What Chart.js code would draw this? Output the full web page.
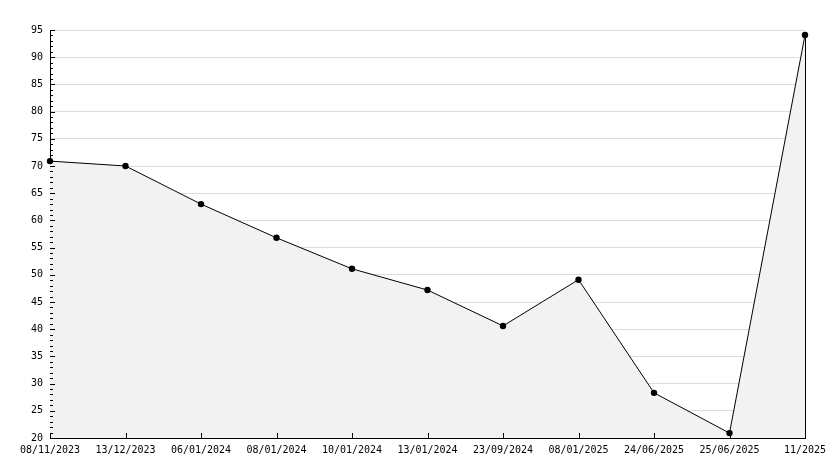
<!DOCTYPE html>
<html><head><meta charset="utf-8">
<script src="https://cdn.jsdelivr.net/npm/chart.js@4"></script>
<style>html,body{margin:0;padding:0;background:#fff}#wrap{width:834px;height:468px}</style>
</head><body><div id="wrap"><canvas id="c" width="834" height="468"></canvas></div>
<script>
const categories = ["08/11/2023","13/12/2023","06/01/2024","08/01/2024","10/01/2024","13/01/2024","23/09/2024","08/01/2025","24/06/2025","25/06/2025","11/2025"];
const values = [70.9, 70.0, 63.0, 56.8, 51.1, 47.2, 40.6, 49.1, 28.3, 20.9, 94.1];
const yMin = 20, yMax = 95, yMajorStep = 5, yMinorStep = 1;

const tickPlugin = {
  id: 'ticks',
  afterDraw(chart) {
    const ctx = chart.ctx, ys = chart.scales.y, xs = chart.scales.x, ca = chart.chartArea;
    ctx.save();
    ctx.strokeStyle = '#000'; ctx.lineWidth = 1;
    ctx.beginPath();
    for (let v = yMin; v <= yMax; v += yMinorStep) {
      const p = Math.round(ys.getPixelForValue(v)) + 0.5;
      const len = (v % yMajorStep === 0) ? 5 : 3;
      ctx.moveTo(ca.left, p); ctx.lineTo(ca.left + len, p);
    }
    for (let i = 0; i < categories.length; i++) {
      const p = Math.round(xs.getPixelForValue(i)) + 0.5;
      ctx.moveTo(p, ca.bottom); ctx.lineTo(p, ca.bottom - 5);
    }
    // area outline at right edge
    const meta = chart.getDatasetMeta(0);
    const last = meta.data[meta.data.length - 1];
    const lx = Math.round(last.x) + 0.5;
    ctx.moveTo(lx, last.y); ctx.lineTo(lx, ca.bottom);
    ctx.stroke();
    ctx.restore();
  }
};

new Chart(document.getElementById('c'), {
  type: 'line',
  data: {
    labels: categories,
    datasets: [{
      data: values,
      borderColor: '#000',
      borderWidth: 1,
      backgroundColor: '#f2f2f2',
      fill: 'start',
      tension: 0,
      pointRadius: 3.2,
      pointBackgroundColor: '#000',
      pointBorderColor: '#000',
      pointBorderWidth: 0,
      pointStyle: 'circle'
    }]
  },
  options: {
    responsive: false,
    animation: false,
    events: [],
    layout: { padding: { top: 30, right: 29, left: 0, bottom: 0 } },
    plugins: { legend: { display: false }, tooltip: { enabled: false } },
    scales: {
      x: {
        type: 'category',
        offset: false,
        grid: { display: false, drawTicks: false },
        border: { display: true, color: '#000', width: 1 },
        ticks: { color: '#000', font: { family: 'DejaVu Sans Mono', size: 10 }, padding: 6, maxRotation: 0, autoSkip: false },
        afterFit(s) { s.height = 30; }
      },
      y: {
        min: yMin, max: yMax,
        grid: {
          drawTicks: false,
          color: (c) => (c.tick && c.tick.value % yMajorStep === 0) ? '#dcdcdc' : 'rgba(0,0,0,0)',
          lineWidth: 1
        },
        border: { display: true, color: '#000', width: 1 },
        ticks: {
          stepSize: yMinorStep,
          autoSkip: false,
          color: '#000',
          font: { family: 'DejaVu Sans Mono', size: 10 },
          padding: 7,
          callback: (v) => (v % yMajorStep === 0) ? String(v) : ''
        },
        afterFit(s) { s.width = 50; }
      }
    }
  },
  plugins: [tickPlugin]
});
</script></body></html>
